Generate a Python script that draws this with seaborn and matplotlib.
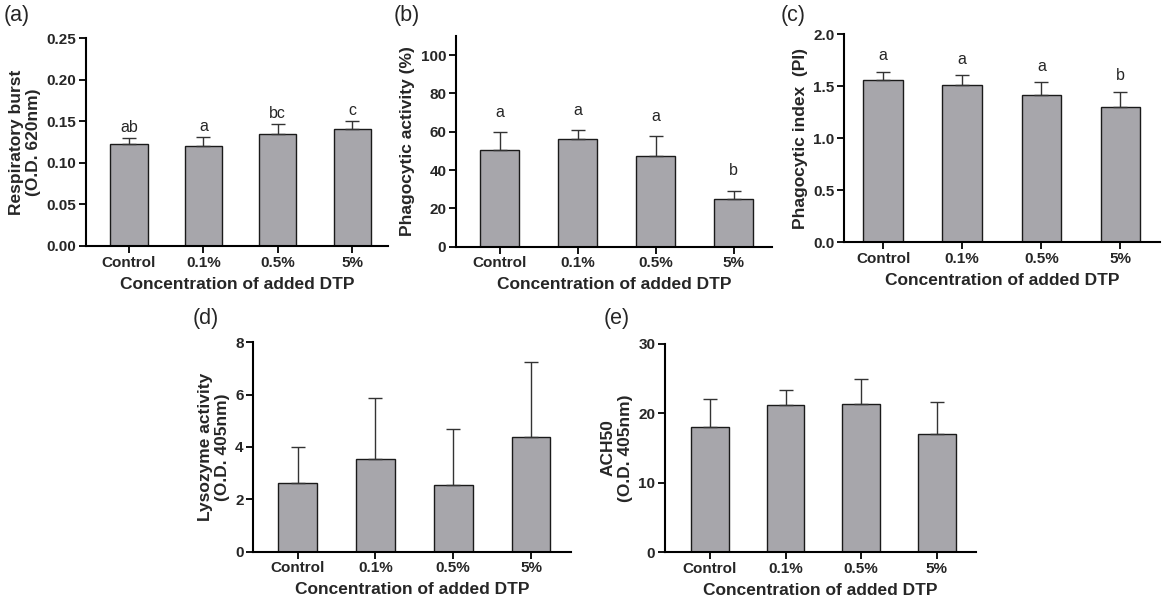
import numpy as np
import pandas as pd
import matplotlib
matplotlib.use("Agg")
import matplotlib.pyplot as plt
import seaborn as sns

categories = ["Control", "0.1%", "0.5%", "5%"]

resp_mean = [0.123, 0.120, 0.135, 0.141]
resp_err = [0.007, 0.011, 0.012, 0.009]
resp_letters = ["ab", "a", "bc", "c"]

phago_mean = [50.4, 56.3, 47.5, 24.7]
phago_err = [9.3, 4.6, 10.2, 4.5]
phago_letters = ["a", "a", "a", "b"]

pi_mean = [1.56, 1.51, 1.42, 1.30]
pi_err = [0.08, 0.10, 0.12, 0.15]
pi_letters = ["a", "a", "a", "b"]

lyso_mean = [2.62, 3.53, 2.54, 4.39]
lyso_err = [1.37, 2.33, 2.15, 2.85]

ach_mean = [17.97, 21.13, 21.32, 16.96]
ach_err = [4.02, 2.20, 3.64, 4.60]

sns.set_theme(style="ticks")
plt.rcParams['font.family'] = ['Liberation Sans', 'DejaVu Sans']

W, H = 1164, 603
fig = plt.figure(figsize=(W / 100, H / 100), dpi=100)

BAR = "#a7a6ab"


def make_axes(left, right, top, bottom):
    return fig.add_axes([left / W, 1 - bottom / H, (right - left) / W, (bottom - top) / H])


def panel(ax, means, errs, ylabel, ylim, yticks, fmt, xlim, letters=None, letter_off=5, tag=None, tagxy=None):
    df = pd.DataFrame({"cat": categories, "val": means})
    sns.barplot(data=df, x="cat", y="val", ax=ax, color=BAR, width=0.5,
                edgecolor="#1a1a1a", linewidth=1.0, errorbar=None, saturation=1)
    ax.errorbar(range(len(categories)), means, yerr=[np.zeros(len(errs)), errs],
                fmt="none", ecolor="#333333", elinewidth=1.0, capsize=5, capthick=1.0, zorder=1)
    ax.set_ylim(*ylim)
    ax.set_xlim(*xlim)
    ax.set_yticks(yticks)
    ax.set_yticklabels([fmt.format(t) for t in yticks])
    ax.set_ylabel(ylabel, fontsize=12.5, fontweight="bold", labelpad=4, linespacing=1.15)
    ax.set_xlabel("Concentration of added DTP", fontsize=12.5, fontweight="bold", labelpad=5)
    for s in ["top", "right"]:
        ax.spines[s].set_visible(False)
    for s in ["left", "bottom"]:
        ax.spines[s].set_linewidth(1.5)
        ax.spines[s].set_color("black")
    ax.tick_params(axis="both", width=1.3, length=5, color="black", labelsize=11, pad=2)
    for lab in ax.get_xticklabels() + ax.get_yticklabels():
        lab.set_fontweight("bold")
    if letters is not None:
        for i, (m, e, l) in enumerate(zip(means, errs, letters)):
            ax.annotate(l, (i, m + e), xytext=(0, letter_off), textcoords="offset points",
                        ha="center", va="bottom", fontsize=11.5)
    if tag is not None:
        fig.text(tagxy[0] / W, 1 - tagxy[1] / H, tag, fontsize=15.5, ha="left", va="top")


ax_a = make_axes(86, 388, 38, 246)
panel(ax_a, resp_mean, resp_err, "Respiratory burst\n(O.D. 620nm)", (0, 0.25),
      [0, 0.05, 0.10, 0.15, 0.20, 0.25], "{:.2f}", (-0.577, 3.48), resp_letters, 2, "(a)", (4, 5))

ax_b = make_axes(456, 772, 36, 246.7)
panel(ax_b, phago_mean, phago_err, "Phagocytic activity (%)", (0, 110),
      [0, 20, 40, 60, 80, 100], "{:.0f}", (-0.564, 3.49), phago_letters, 9, "(b)", (394, 5))

ax_c = make_axes(844.3, 1160, 34.3, 242.3)
panel(ax_c, pi_mean, pi_err, "Phagocytic index  (PI)", (0, 2.0),
      [0, 0.5, 1.0, 1.5, 2.0], "{:.1f}", (-0.49, 3.5), pi_letters, 6, "(c)", (781, 5))

ax_d = make_axes(253.3, 570.7, 342.3, 551.7)
panel(ax_d, lyso_mean, lyso_err, "Lysozyme activity\n(O.D. 405nm)", (0, 8),
      [0, 2, 4, 6, 8], "{:.0f}", (-0.57, 3.51), None, 0, "(d)", (193, 308))

ax_e = make_axes(665, 976, 343.7, 552.3)
panel(ax_e, ach_mean, ach_err, "ACH50\n(O.D. 405nm)", (0, 30),
      [0, 10, 20, 30], "{:.0f}", (-0.595, 3.52), None, 0, "(e)", (604, 308))

fig.savefig("out.png", dpi=100)
